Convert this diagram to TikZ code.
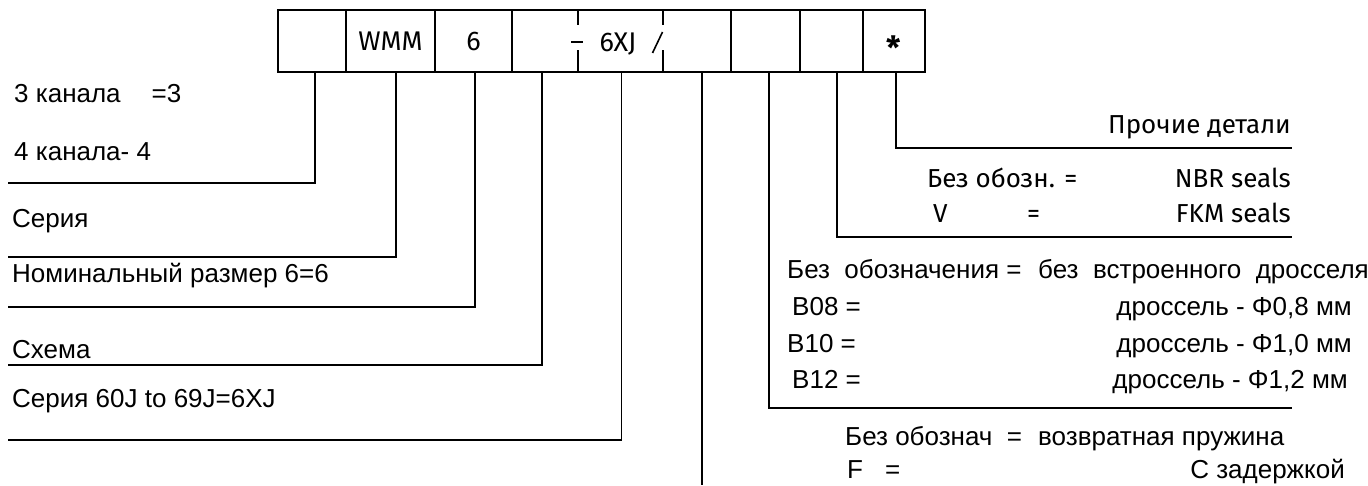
\documentclass[tikz,border=0pt]{standalone}
\usepackage{fontspec}
\setmainfont{Liberation Sans}
\newfontfamily\humfont{Fira Sans}
\usetikzlibrary{positioning}
\tikzset{
    cell/.style={
        draw,
        line width=1.6pt,
        minimum height=62pt,
        inner sep=0pt,
        outer sep=0pt,
        text height=18pt,
        text depth=0pt,
        font=\humfont\fontsize{27}{27}\selectfont
    },
    lead/.style={line width=1.6pt},
    txt/.style={inner sep=0pt, anchor=base west, font=\fontsize{26}{30}\selectfont},
    rtxt/.style={txt, anchor=base east},
    htxt/.style={inner sep=0pt, anchor=base west, font=\humfont\fontsize{26}{28}\selectfont},
    hrtxt/.style={htxt, anchor=base east}
}

\begin{document}
\begin{tikzpicture}[x=1pt,y=-1pt]
  \useasboundingbox (0,0) rectangle (1368,485);

  % code box
  \node[cell, minimum width=68pt, anchor=west] (c1) at (278,41) {};
  \node[cell, minimum width=89pt, right=0pt of c1] (c2) {WMM};
  \node[cell, minimum width=77pt, right=0pt of c2] (c3) {6};
  \node[cell, minimum width=219pt, right=0pt of c3] (c4) {};
  \node[cell, minimum width=69pt, right=0pt of c4] (c5) {};
  \node[cell, minimum width=63pt, right=0pt of c5] (c6) {};
  \node[cell, minimum width=62pt, right=0pt of c6] (c7) {\fontsize{32}{32}\selectfont\raisebox{-9pt}{\textbf{*}}};
  \node[cell, draw=none] at (618,42) (ser) {6XJ};
  \draw[lead] ([xshift=66pt]c4.north west) -- ++(0,15) ++(0,25) -- ([xshift=66pt]c4.south west);
  \draw[lead] ([xshift=151pt]c4.north west) -- ++(0,15) ++(0,25) -- ([xshift=151pt]c4.south west);
  \draw[lead] (571,42) -- (583,42);
  \draw[lead] (652.5,53) -- (662.5,32);

  % leaders to the left
  \coordinate (e1) at (8,183);
  \coordinate (e2) at (8,257);
  \coordinate (e3) at (8,307);
  \coordinate (e4) at (8,365);
  \coordinate (e5) at (8,440);
  \coordinate (e6) at (702,485);
  \draw[lead] ([xshift=2.7pt]c1.south) |- (e1);
  \draw[lead] ([xshift=5.2pt]c2.south) |- (e2);
  \draw[lead] ([xshift=1.2pt]c3.south) |- (e3);
  \draw[lead] ([xshift=-79.5pt]c4.south) |- (e4);
  \draw[lead] (c4.south) |- (e5);
  \draw[lead] ([xshift=80.5pt]c4.south) -- (e6);

  % leaders to the right
  \coordinate (e7) at (1292,408);
  \coordinate (e8) at (1292,237);
  \coordinate (e9) at (1292,148);
  \draw[lead] ([xshift=3.2pt]c5.south) |- (e7);
  \draw[lead] ([xshift=5.7pt]c6.south) |- (e8);
  \draw[lead] ([xshift=2pt]c7.south) |- (e9);

  % left texts
  \node[txt] at (14,102) (ch3) {3 канала\hspace*{31pt}=3};
  \node[txt] at (14,160) (ch4) {4 канала- 4};
  \node[txt] at (12,227) (ser1) {Серия};
  \node[txt] at (12,282) (nom) {Номинальный размер 6=6};
  \node[txt] at (12,358) (sch) {Схема};
  \node[txt] at (12,407) (ser2) {Серия 60J to 69J=6XJ};

  % right texts
  \node[hrtxt] at (1291,133) (oth) {Прочие детали};
  \node[htxt] at (927,187) (s0) {Без обозн. =};
  \node[hrtxt] at (1291,187) (nbr) {NBR seals};
  \node[htxt] at (933,222) (sv) {V};
  \node[htxt] at (1027,222) (sveq) {=};
  \node[hrtxt] at (1291,222) (fkm) {FKM seals};

  \node[txt] at (787,278) (d0) {Без\ \ обозначения =};
  \node[txt] at (1038,278) (d0r) {без\ \ встроенного\ \ дросселя};
  \node[txt] at (792,315) (d8) {B08 =};
  \node[rtxt] at (1352,315) (d8r) {дроссель - Φ0,8 мм};
  \node[txt] at (787,352) (d10) {B10 =};
  \node[rtxt] at (1352,352) (d10r) {дроссель - Φ1,0 мм};
  \node[txt] at (792,388) (d12) {B12 =};
  \node[rtxt] at (1348,388) (d12r) {дроссель - Φ1,2 мм};

  \node[txt] at (845,445) (r0) {Без обознач\ \ =};
  \node[txt] at (1038,445) (r0r) {возвратная пружина};
  \node[txt] at (847,478) (rf) {F};
  \node[txt] at (885,478) (rfeq) {=};
  \node[rtxt] at (1345,478) (rfr) {С задержкой};
\end{tikzpicture}
\end{document}
